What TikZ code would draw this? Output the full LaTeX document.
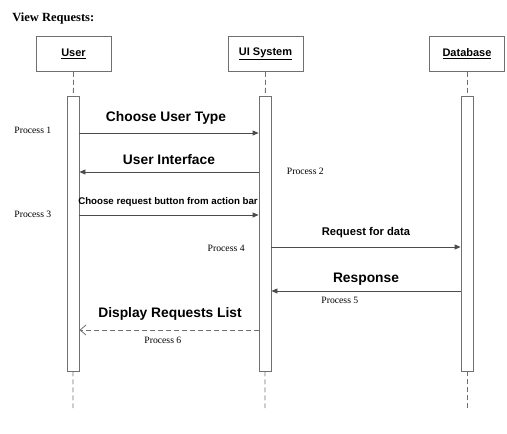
\documentclass[tikz,border=0pt]{standalone}
\usepackage{fontspec}
\setmainfont{Liberation Serif}
\setsansfont{Liberation Sans}
\usetikzlibrary{arrows.meta}
\definecolor{linegray}{RGB}{112,112,112}
\tikzset{
  actor/.style={draw=linegray,fill=white,minimum width=75pt,minimum height=35pt,inner sep=0pt,
    font=\fontsize{11}{13}\selectfont\sffamily\bfseries},
  bar/.style={draw=linegray,fill=white,minimum width=12pt,minimum height=275pt,inner sep=0pt},
  life/.style={draw=linegray,dash pattern=on 5pt off 3pt},
  msg/.style={draw=black!70,-{Triangle[length=6pt,width=5pt]}},
  reply/.style={draw=linegray,dash pattern=on 5pt off 3pt,-{Straight Barb[length=6pt,width=10pt]}},
  big/.style={anchor=base,inner sep=0pt,font=\fontsize{13.8}{16}\selectfont\sffamily\bfseries},
  small/.style={anchor=base,inner sep=0pt,font=\fontsize{9.7}{12}\selectfont\sffamily\bfseries},
  mid/.style={anchor=base,inner sep=0pt,font=\fontsize{11.2}{13}\selectfont\sffamily\bfseries},
  proc/.style={anchor=base west,inner sep=0pt,font=\fontsize{9.7}{12}\selectfont},
}
\begin{document}
\begin{tikzpicture}[x=1pt,y=-1pt,line width=.8pt]
  \useasboundingbox (0,0) rectangle (507,434);
  \node[anchor=base west,inner sep=0pt,font=\fontsize{12.5}{15}\selectfont\bfseries] (title) at (12,21) {View Requests:};
  % objects
  \node[actor] (user) at (73.5,54) {\underline{User}};
  \node[actor] (ui) at (265.5,54) {\underline{UI System}};
  \node[actor] (db) at (467,54) {\underline{Database}};
  \node[bar] (userbar) at (73,233.5) {};
  \node[bar] (uibar) at (265,233.5) {};
  \node[bar] (dbbar) at (467,233.5) {};
  \coordinate (userend) at (73,408);
  \coordinate (uiend) at (265,408);
  \coordinate (dbend) at (467,408);
  \draw[life] (user) -- (userbar) (userbar) -- (userend);
  \draw[life] (ui) -- (uibar) (uibar) -- (uiend);
  \draw[life] (db) -- (dbbar) (dbbar) -- (dbend);
  % messages
  \draw[msg] (userbar.east |- 0,133) -- (uibar.west |- 0,133);
  \node[big] (m1) at (166,121) {Choose User Type};
  \node[proc] (p1) at (14,133.5) {Process 1};
  \draw[msg] (uibar.west |- 0,172) -- (userbar.east |- 0,172);
  \node[big] (m2) at (169,164) {User Interface};
  \node[proc] (p2) at (286.5,174) {Process 2};
  \draw[msg] (userbar.east |- 0,215) -- (uibar.west |- 0,215);
  \node[small] (m3) at (168,204.3) {Choose request button from action bar};
  \node[proc] (p3) at (14,217.7) {Process 3};
  \draw[msg] (uibar.east |- 0,247) -- (dbbar.west |- 0,247);
  \node[mid] (m4) at (366,235) {Request for data};
  \node[proc] (p4) at (207.3,251) {Process 4};
  \draw[msg] (dbbar.west |- 0,291) -- (uibar.east |- 0,291);
  \node[big] (m5) at (366,282.3) {Response};
  \node[proc] (p5) at (321,303.3) {Process 5};
  \draw[reply] (uibar.west |- 0,330) -- (userbar.east |- 0,330);
  \node[big] (m6) at (170,317.3) {Display Requests List};
  \node[proc] (p6) at (144,343.7) {Process 6};
\end{tikzpicture}
\end{document}
